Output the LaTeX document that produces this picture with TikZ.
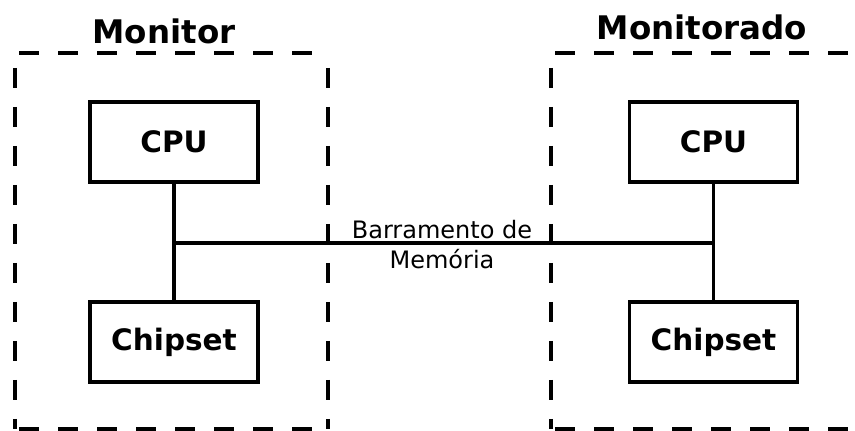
\documentclass[tikz,border=0pt]{standalone}
\usepackage{fontspec}
\setmainfont{DejaVu Sans}
\begin{document}
\begin{tikzpicture}[x=1pt,y=-1pt,
  comp/.style={draw, line width=3.6pt, minimum width=168pt, minimum height=80pt, inner sep=0pt,
    font=\fontsize{29.5}{32}\selectfont\bfseries},
  title/.style={anchor=base, font=\fontsize{32.5}{36}\selectfont\bfseries, inner sep=0pt},
  grp/.style={line width=4pt, dash pattern=on 20pt off 19pt},
  wire/.style={line width=3.4pt}]
\useasboundingbox (0,0) rectangle (855,431);
% groups
\draw[grp, dash phase=35pt] (15.3,52.8) -- (327.5,52.8);
\draw[grp, dash phase=24pt] (15.3,52.8) -- (15.3,429);
\draw[grp, dash phase=24pt] (327.5,52.8) -- (327.5,429);
\draw[grp, dash phase=35pt] (15.3,429) -- (327.5,429);
\draw[grp, dash phase=35pt] (551.3,52.8) -- (870,52.8);
\draw[grp, dash phase=24pt] (551.3,52.8) -- (551.3,429);
\draw[grp, dash phase=35pt] (551.3,429) -- (870,429);
\node[title] (tl) at (164,43) {Monitor};
\node[title] (tr) at (702,39) {Monitorado};
% components
\node[comp] (cpul) at (174,141.8) {CPU};
\node[comp] (chipl) at (174,342) {Chipset};
\node[comp] (cpur) at (713.5,141.8) {CPU};
\node[comp] (chipr) at (713.5,342) {Chipset};
\coordinate (jl) at (174,242.8);
\coordinate (jr) at (713.5,242.8);
\draw[wire] (cpul) -- (chipl);
\draw[wire] (cpur) -- (chipr);
\draw[wire] (jl) -- (jr);
\node[align=center, inner sep=0pt, font=\fontsize{24}{30}\selectfont] (bus) at (442,245) {Barramento de\\Memória};
\end{tikzpicture}
\end{document}
